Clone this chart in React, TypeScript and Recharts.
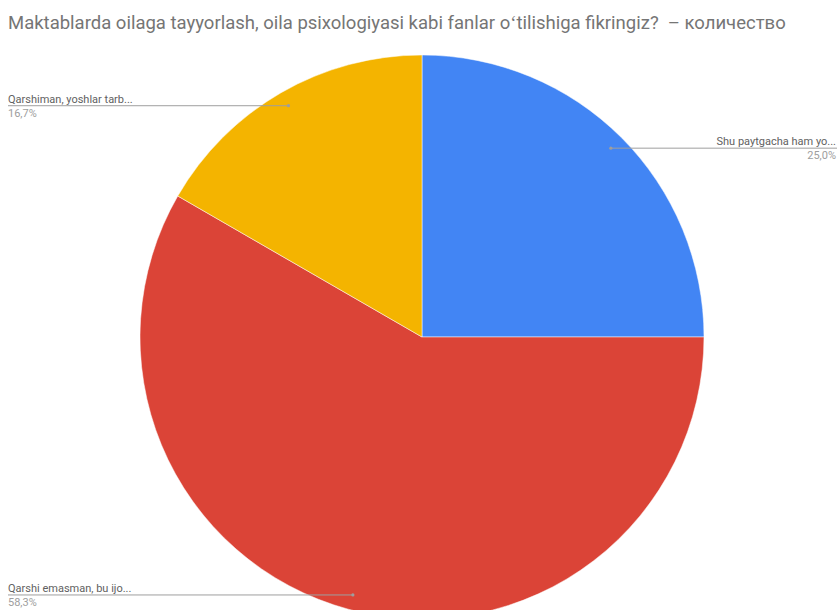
import React from "react";
import { PieChart, Pie, Cell } from "recharts";

const categories = [
  "Shu paytgacha ham yo...",
  "Qarshi emasman, bu ijo...",
  "Qarshiman, yoshlar tarb...",
];
const counts = [3, 7, 2];
const percentLabels = ["25,0%", "58,3%", "16,7%"];
const colors = ["#4285f4", "#db4437", "#f4b400"];
const title =
  "Maktablarda oilaga tayyorlash, oila psixologiyasi kabi fanlar o\u02bbtilishiga fikringiz?  \u2013 количество";

const data = categories.map((name, i) => ({ name, value: counts[i], pct: percentLabels[i] }));

const W = 838;
const H = 610;
const RAD = Math.PI / 180;
// Google-style label anchor angle adjustments (rendering only)
const angleOverride: Record<number, number> = { 1: -105 };

const renderLabel = (props: any) => {
  const { cx, cy, outerRadius, midAngle, index, payload } = props;
  const ang = angleOverride[index] !== undefined ? angleOverride[index] : midAngle;
  const r = outerRadius * 0.947;
  const px = cx + r * Math.cos(-ang * RAD);
  const py = cy + r * Math.sin(-ang * RAD);
  const right = Math.cos(-ang * RAD) > 0;
  const x2 = right ? W - 1 : 8;
  const tx = right ? W - 2 : 8;
  const anchor = right ? "end" : "start";
  return (
    <g>
      <line x1={px} y1={py} x2={x2} y2={py} stroke="#9e9e9e" strokeWidth={1} />
      <circle cx={px} cy={py} r={1.6} fill="#9e9e9e" />
      <text x={tx} y={py - 3} textAnchor={anchor} fontSize={11} fill="#616161" fontFamily="Roboto">
        {payload.name}
      </text>
      <text x={tx} y={py + 11} textAnchor={anchor} fontSize={11} fill="#9e9e9e" fontFamily="Roboto">
        {payload.pct}
      </text>
    </g>
  );
};

export default function App() {
  return (
    <div style={{ position: "absolute", left: 0, top: 0, width: W, height: H, background: "#fff", overflow: "hidden" }}>
      <div
        style={{
          position: "absolute",
          left: 8,
          top: 12,
          fontFamily: "Roboto",
          fontSize: 18.5,
          color: "#757575",
          whiteSpace: "pre",
          zIndex: 2,
        }}
      >
        {title}
      </div>
      <PieChart width={W} height={H} margin={{ top: 0, right: 0, bottom: 0, left: 0 }}>
        <Pie
          data={data}
          dataKey="value"
          nameKey="name"
          cx={422}
          cy={337}
          outerRadius={282}
          startAngle={90}
          endAngle={-270}
          stroke="#ffffff"
          strokeWidth={0.5}
          isAnimationActive={false}
          label={renderLabel}
          labelLine={false}
        >
          {data.map((d, i) => (
            <Cell key={d.name} fill={colors[i]} />
          ))}
        </Pie>
      </PieChart>
    </div>
  );
}
